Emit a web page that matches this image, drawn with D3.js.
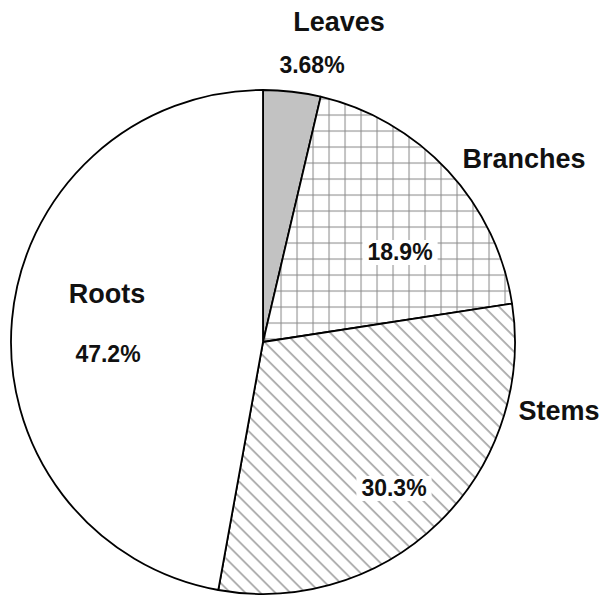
<!DOCTYPE html>
<html>
<head>
<meta charset="utf-8">
<script src="https://cdn.jsdelivr.net/npm/d3@7"></script>
<style>
  html, body { margin: 0; padding: 0; background: #fff; }
  svg { display: block; }
  text { font-family: "Liberation Sans", Arial, Helvetica, sans-serif; font-weight: bold; fill: #111; }
</style>
</head>
<body>
<svg id="chart" width="603" height="596"></svg>
<script>
// Biomass share by plant component (percent)
const components = ["Leaves", "Branches", "Stems", "Roots"];
const shares = [3.68, 18.9, 30.3, 47.2];
const shareLabels = ["3.68%", "18.9%", "30.3%", "47.2%"];

const W = 603, H = 596;
const cx = 263, cy = 342, R = 252;

const svg = d3.select("#chart");
const defs = svg.append("defs");

// cross-hatched grid
const grid = defs.append("pattern")
  .attr("id", "grid").attr("patternUnits", "userSpaceOnUse")
  .attr("x", 1.5).attr("y", 12.5).attr("width", 16).attr("height", 16);
grid.append("rect").attr("width", 16).attr("height", 16).attr("fill", "#fff");
grid.append("line").attr("x1", 0.5).attr("y1", 0).attr("x2", 0.5).attr("y2", 16)
  .attr("stroke", "#8c8c8c").attr("stroke-width", 1.1);
grid.append("line").attr("x1", 0).attr("y1", 0.5).attr("x2", 16).attr("y2", 0.5)
  .attr("stroke", "#8c8c8c").attr("stroke-width", 1.1);

// diagonal hatching
const diag = defs.append("pattern")
  .attr("id", "diag").attr("patternUnits", "userSpaceOnUse")
  .attr("width", 10.6).attr("height", 10.6)
  .attr("patternTransform", "rotate(-45)");
diag.append("rect").attr("width", 10.6).attr("height", 10.6).attr("fill", "#fff");
diag.append("line").attr("x1", 1).attr("y1", 0).attr("x2", 1).attr("y2", 10.6)
  .attr("stroke", "#8c8c8c").attr("stroke-width", 1.3);

const fills = ["#c2c2c2", "url(#grid)", "url(#diag)", "#ffffff"];

const pie = d3.pie().value(d => d).sort(null);
const arcs = pie(shares);
const arc = d3.arc().innerRadius(0).outerRadius(R);

const g = svg.append("g").attr("transform", `translate(${cx},${cy})`);

g.selectAll("path.slice")
  .data(arcs)
  .join("path")
  .attr("class", "slice")
  .attr("d", arc)
  .attr("fill", (d, i) => fills[i])
  .attr("stroke", "#000")
  .attr("stroke-width", 1.8)
  .attr("stroke-linejoin", "round");

// label placement relative to pie centre: [name dx, name baseline dy, value dx, value baseline dy]
const labelLayout = [
  [76, -311, 49, -269],
  [261, -174, 137, -82],
  [296, 78, 131, 154],
  [-156, -39, -155, 20]
];

const nameSize = 27, valueSize = 23;

components.forEach((name, i) => {
  const [nx, ny, vx, vy] = labelLayout[i];
  g.append("text")
    .attr("x", nx).attr("y", ny)
    .attr("text-anchor", "middle")
    .attr("font-size", nameSize)
    .text(name);

  const vg = g.append("g");
  const t = vg.append("text")
    .attr("x", vx).attr("y", vy)
    .attr("text-anchor", "middle")
    .attr("font-size", valueSize)
    .text(shareLabels[i]);
  const bb = t.node().getBBox();
  vg.insert("rect", "text")
    .attr("x", bb.x - 5).attr("y", bb.y + 1)
    .attr("width", bb.width + 10).attr("height", bb.height - 1)
    .attr("fill", "#fff");
});
</script>
</body>
</html>
